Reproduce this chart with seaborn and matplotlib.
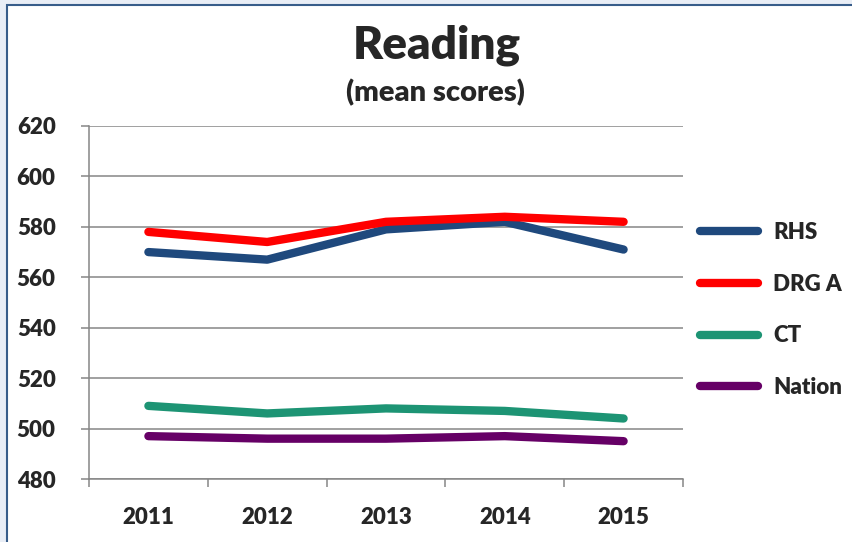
import matplotlib
matplotlib.use("Agg")
import matplotlib.pyplot as plt
import seaborn as sns
import pandas as pd
from matplotlib.lines import Line2D
from matplotlib.patches import Rectangle

years = ["2011", "2012", "2013", "2014", "2015"]
series_names = ["RHS", "DRG A", "CT", "Nation"]
rhs = [570, 567, 579, 582, 571]
drg_a = [578, 574, 582, 584, 582]
ct = [509, 506, 508, 507, 504]
nation = [497, 496, 496, 497, 495]
y_ticks = [480, 500, 520, 540, 560, 580, 600, 620]
colors = ["#1F497D", "#FF0000", "#1D9474", "#660066"]

rows = []
for name, vals in zip(series_names, [rhs, drg_a, ct, nation]):
    for yr, v in zip(years, vals):
        rows.append({"Year": yr, "Score": v, "Series": name})
df = pd.DataFrame(rows)

sns.set_theme(style="white")
plt.rcParams["font.family"] = ["Lato", "DejaVu Sans"]
WEIGHT = "heavy"
plt.rcParams["font.weight"] = WEIGHT

W, H = 852, 542
fig = plt.figure(figsize=(W / 100, H / 100), dpi=100)
fig.patch.set_facecolor("#E9EEF6")
fig.patches.append(Rectangle((7 / W, -0.1), 1.2, 1 - 5 / H + 0.1, transform=fig.transFigure,
                             facecolor="white", edgecolor="#385D8A", linewidth=1.5, zorder=-10))

ax = fig.add_axes([89 / W, 1 - 479 / H, (683 - 89) / W, (479 - 126) / H])
ax.set_facecolor("none")

sns.lineplot(data=df, x="Year", y="Score", hue="Series", hue_order=series_names,
             palette=colors, linewidth=6, sort=False, ax=ax, legend=False,
             solid_capstyle="round", solid_joinstyle="round")

ax.set_xlim(-0.5, 4.5)
ax.set_ylim(480, 620)
ax.set_yticks(y_ticks)
ax.set_yticklabels([str(t) for t in y_ticks], fontsize=16, fontweight=WEIGHT)
ax.set_xticks(range(len(years)))
ax.set_xticklabels(years, fontsize=16, fontweight=WEIGHT)
ax.set_xticks([i - 0.5 for i in range(len(years) + 1)], minor=True)
ax.tick_params(axis="x", which="major", length=0, pad=20)
ax.tick_params(axis="x", which="minor", length=6, width=1.1, color="#868686", direction="out", bottom=True)
ax.tick_params(axis="y", which="major", length=6, width=1.1, color="#868686", direction="out", pad=18, left=True)
ax.set_xlabel("")
ax.set_ylabel("")
ax.grid(axis="y", color="#868686", linewidth=1.1)
ax.set_axisbelow(True)
for s in ["top", "right"]:
    ax.spines[s].set_visible(False)
for s in ["left", "bottom"]:
    ax.spines[s].set_color("#868686")
    ax.spines[s].set_linewidth(1.1)

handles = [Line2D([0], [0], color=c, linewidth=6, solid_capstyle="round") for c in colors]
fig.legend(handles, series_names, loc="upper left", bbox_to_anchor=(700 / W, 1 - 222 / H),
           frameon=False, prop={"size": 16, "weight": WEIGHT}, handlelength=2.6,
           handletextpad=0.7, labelspacing=1.38, borderpad=0, borderaxespad=0)

fig.text(437 / W, 1 - 45 / H, "Reading", ha="center", va="center", fontsize=33, fontweight=WEIGHT)
fig.text(435 / W, 1 - 93 / H, "(mean scores)", ha="center", va="center", fontsize=21, fontweight=WEIGHT)

fig.savefig("out.png", dpi=100, facecolor=fig.get_facecolor())
